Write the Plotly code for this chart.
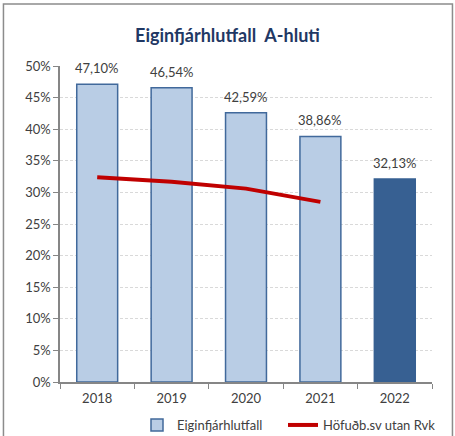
import plotly.graph_objects as go

years = ["2018", "2019", "2020", "2021", "2022"]
equity_ratio = [47.10, 46.54, 42.59, 38.86, 32.13]
capital_excl_rvk_years = ["2018", "2019", "2020", "2021"]
capital_excl_rvk = [32.4, 31.7, 30.6, 28.5]
y_ticks = [0, 5, 10, 15, 20, 25, 30, 35, 40, 45, 50]

FONT = "Lato, Calibri, sans-serif"
light_fill = "#B9CDE5"
light_edge = "#41699B"
dark_fill = "#376092"

bar_colors = [light_fill] * (len(years) - 1) + [dark_fill]
edge_colors = [light_edge] * (len(years) - 1) + [dark_fill]
labels = [f"{v:.2f}".replace(".", ",") + "%" for v in equity_ratio]

fig = go.Figure()
fig.add_trace(go.Bar(
    x=years, y=equity_ratio, name="Eiginfjárhlutfall",
    marker=dict(color=bar_colors, line=dict(color=edge_colors, width=1.5)),
    width=0.55, legend="legend",
))
fig.add_trace(go.Scatter(
    x=capital_excl_rvk_years, y=capital_excl_rvk, name="Höfuðb.sv utan Rvk",
    mode="lines", line=dict(color="#C00000", width=4), legend="legend2",
))

# Value labels above the bars (category index positions on the x axis)
for i, (v, lab) in enumerate(zip(equity_ratio, labels)):
    fig.add_annotation(x=i, y=v, text=lab, showarrow=False,
                       yanchor="bottom", yshift=6,
                       font=dict(family=FONT, size=13, color="#404040"))

legend_font = dict(family=FONT, size=13, color="#404040")
fig.update_layout(
    width=455, height=436,
    margin=dict(l=60, r=23, t=66, b=54, autoexpand=False),
    paper_bgcolor="white", plot_bgcolor="white",
    font=dict(family=FONT, size=13, color="#404040"),
    title=dict(text="<b>Eiginfjárhlutfall  A-hluti</b>", x=0.5, xanchor="center",
               y=0.918, yanchor="middle",
               font=dict(family=FONT, size=18, color="#1F3864")),
    showlegend=True,
    legend=dict(orientation="h", xref="container", x=137 / 455, xanchor="left",
                yref="container", y=11 / 436, yanchor="middle",
                font=legend_font, itemwidth=30),
    legend2=dict(orientation="h", xref="container", x=283 / 455, xanchor="left",
                 yref="container", y=11 / 436, yanchor="middle",
                 font=legend_font, itemwidth=30),
)
fig.update_yaxes(
    range=[0, 50], tickvals=y_ticks, ticktext=[f"{v}%" for v in y_ticks],
    showline=True, linecolor="#868686", linewidth=1.5,
    ticks="outside", ticklen=5, tickcolor="#868686",
    showgrid=True, gridcolor="#D9D9D9", griddash="3px,2px", gridwidth=1,
    zeroline=False, fixedrange=True,
)
fig.update_xaxes(
    type="category", categoryorder="array", categoryarray=years,
    range=[-0.5, len(years) - 0.5],
    showline=True, linecolor="#868686", linewidth=1.5,
    ticks="outside", ticklen=5, tickcolor="#868686", tickson="boundaries",
    ticklabelstandoff=4, showgrid=False,
)

# Chart frame
fig.add_shape(type="rect", xref="paper", yref="paper",
              x0=-0.152, x1=1.055, y0=-0.2, y1=1.196,
              line=dict(color="#8C8C8C", width=1.5), fillcolor="rgba(0,0,0,0)",
              layer="below")

fig.write_html("out.html")
